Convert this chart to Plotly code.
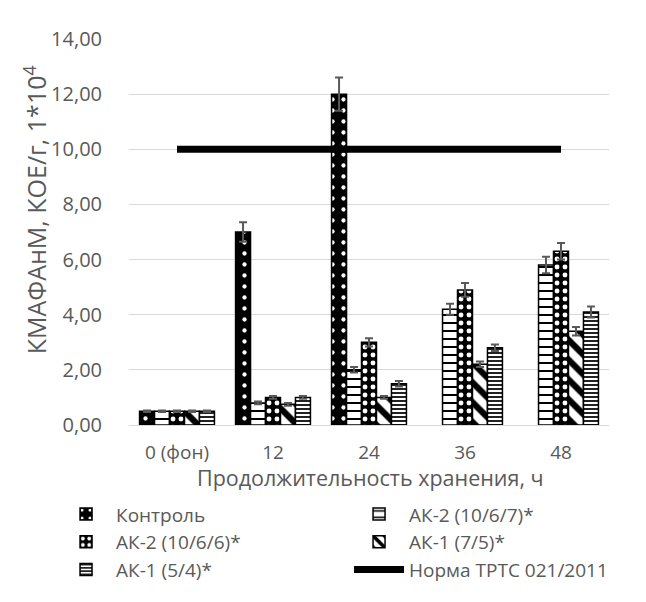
import plotly.graph_objects as go

categories = ["0 (фон)", "12", "24", "36", "48"]

control = [0.5, 7.0, 12.0, None, None]
control_err = [0.03, 0.35, 0.6, 0, 0]

ak2_1067 = [0.5, 0.8, 2.0, 4.2, 5.8]
ak2_1067_err = [0.03, 0.05, 0.1, 0.2, 0.3]

ak2_1066 = [0.5, 1.0, 3.0, 4.9, 6.3]
ak2_1066_err = [0.03, 0.05, 0.15, 0.25, 0.3]

ak1_75 = [0.5, 0.75, 1.0, 2.2, 3.4]
ak1_75_err = [0.03, 0.05, 0.05, 0.1, 0.15]

ak1_54 = [0.5, 1.0, 1.5, 2.8, 4.1]
ak1_54_err = [0.03, 0.05, 0.1, 0.12, 0.2]

norma = [10, 10, 10, 10, 10]

y_ticks = [0, 2, 4, 6, 8, 10, 12, 14]
y_tick_text = ["0,00", "2,00", "4,00", "6,00", "8,00", "10,00", "12,00", "14,00"]

x_title = "Продолжительность хранения, ч"
y_title = "КМАФАнМ, КОЕ/г, 1*10<sup>4</sup>"

FONT = "Open Sans"
GRAY = "#595959"

# page offset (default body margin) = 8 px
PL, PT = 121, 31
PW, PH = 480, 386.4

def err(arr):
    return dict(type="data", array=arr, visible=True, color=GRAY, thickness=2, width=4)

fig = go.Figure()

fig.add_trace(go.Bar(
    name="Контроль", x=categories, y=control, error_y=err(control_err),
    marker=dict(color="black", line=dict(color="black", width=1.5),
                pattern=dict(shape=".", fgcolor="white", bgcolor="black",
                             size=11, solidity=0.12, fillmode="replace")),
))
fig.add_trace(go.Bar(
    name="АК-2 (10/6/7)*", x=categories, y=ak2_1067, error_y=err(ak2_1067_err),
    marker=dict(color="white", line=dict(color="black", width=1.5),
                pattern=dict(shape="-", fgcolor="black", bgcolor="white",
                             size=8, solidity=0.25, fillmode="replace")),
))
fig.add_trace(go.Bar(
    name="АК-2 (10/6/6)*", x=categories, y=ak2_1066, error_y=err(ak2_1066_err),
    marker=dict(color="black", line=dict(color="black", width=1.5),
                pattern=dict(shape=".", fgcolor="white", bgcolor="black",
                             size=8, solidity=0.3, fillmode="replace")),
))
fig.add_trace(go.Bar(
    name="АК-1 (7/5)*", x=categories, y=ak1_75, error_y=err(ak1_75_err),
    marker=dict(color="white", line=dict(color="black", width=1.5),
                pattern=dict(shape="\\", fgcolor="black", bgcolor="white",
                             size=14, solidity=0.45, fillmode="replace")),
))
fig.add_trace(go.Bar(
    name="АК-1 (5/4)*", x=categories, y=ak1_54, error_y=err(ak1_54_err),
    marker=dict(color="white", line=dict(color="black", width=1.5),
                pattern=dict(shape="-", fgcolor="#222222", bgcolor="white",
                             size=4, solidity=0.5, fillmode="replace")),
))
fig.add_trace(go.Scatter(
    name="Норма ТРТС 021/2011", x=categories, y=norma, mode="lines",
    line=dict(color="black", width=7),
))

fig.update_layout(
    width=630, height=586,
    margin=dict(l=PL, r=630 - PL - PW, t=PT, b=586 - PT - PH, autoexpand=False),
    paper_bgcolor="white", plot_bgcolor="white",
    barmode="group", bargap=0.22, bargroupgap=0,
    font=dict(family=FONT, color=GRAY, size=19),
    showlegend=True,
    legend=dict(orientation="h", x=-0.152, xanchor="left", y=-0.182, yanchor="top",
                entrywidth=228, entrywidthmode="pixels",
                font=dict(family=FONT, size=19, color=GRAY),
                tracegroupgap=0, itemwidth=50),
    xaxis=dict(
        type="category", showgrid=False, showline=True, linecolor="#d9d9d9", linewidth=1,
        ticks="", tickfont=dict(family=FONT, size=19, color=GRAY), ticklabelstandoff=10,
    ),
    yaxis=dict(
        range=[0, 14], tickvals=y_ticks, ticktext=y_tick_text,
        showgrid=True, gridcolor="#d9d9d9", gridwidth=1, zeroline=False,
        ticks="", tickfont=dict(family=FONT, size=20, color=GRAY), ticklabelstandoff=26,
    ),
    annotations=[
        dict(text=x_title, xref="paper", yref="paper", x=(370 - 129) / PW, y=-(478 - 425) / PH,
             xanchor="center", yanchor="middle", showarrow=False,
             font=dict(family=FONT, size=21.5, color=GRAY)),
        dict(text=y_title, xref="paper", yref="paper", x=(35 - 129) / PW, y=(425 - 210) / PH,
             xanchor="center", yanchor="middle", showarrow=False, textangle=-90,
             font=dict(family=FONT, size=25, color=GRAY)),
    ],
)

fig.write_html("out.html")
